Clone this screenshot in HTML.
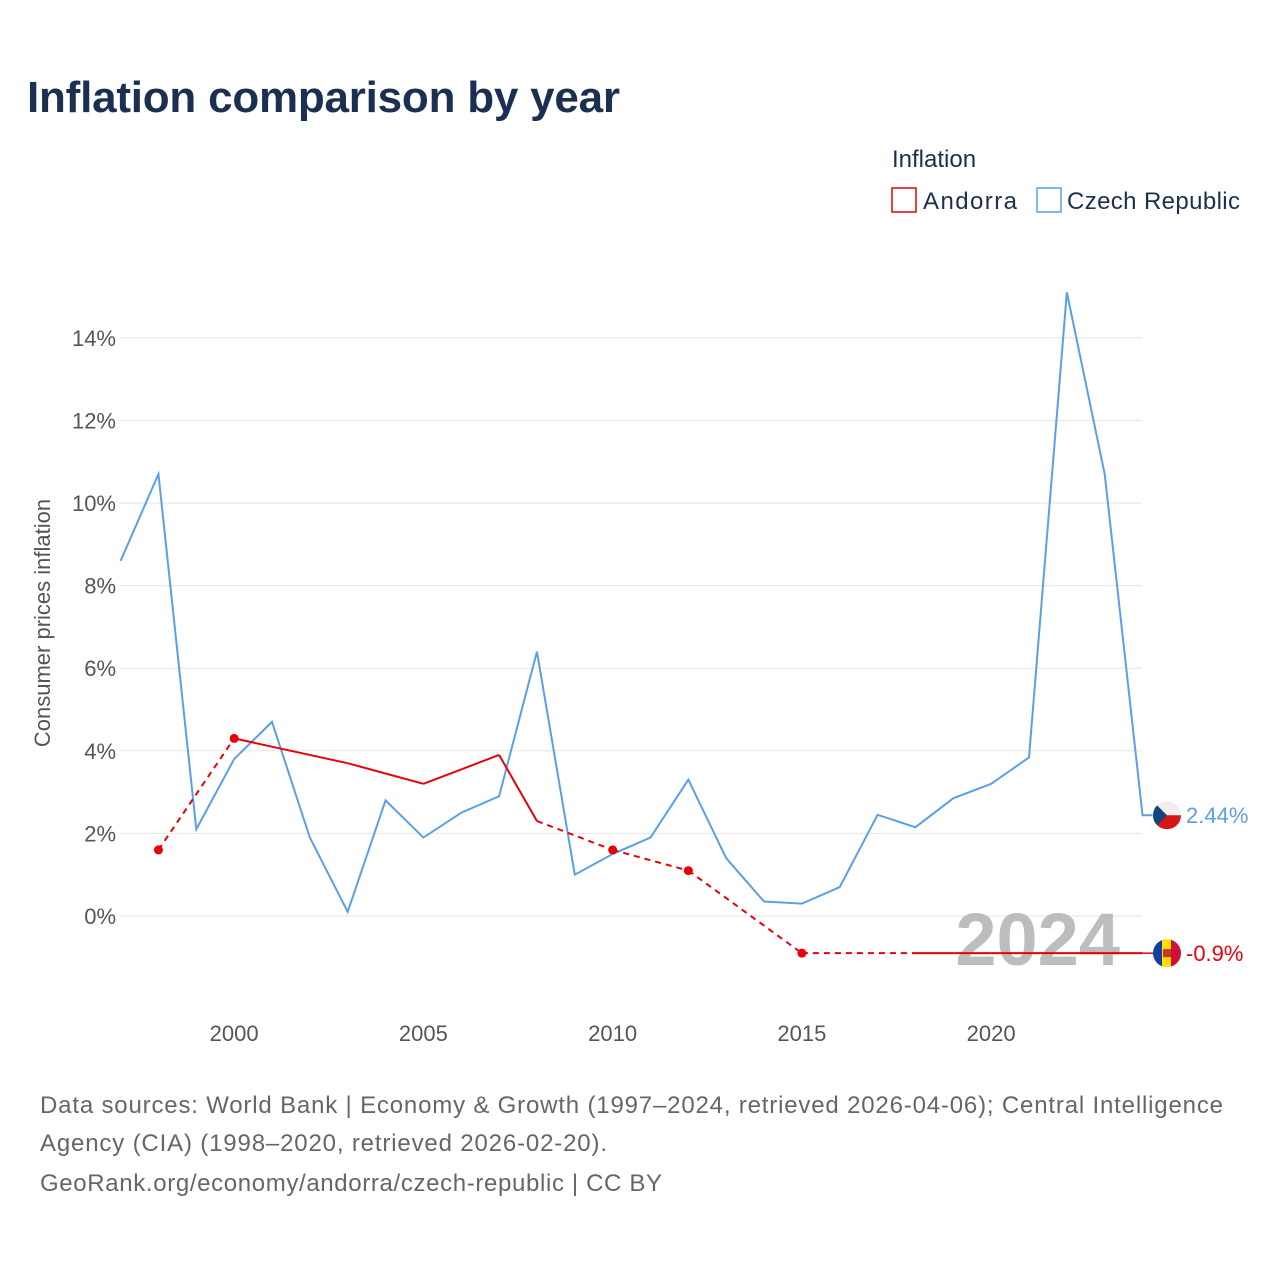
<!DOCTYPE html>
<html><head><meta charset="utf-8"><style>
body{margin:0;background:#fff;font-family:"Liberation Sans",sans-serif;}
</style></head><body>
<svg id="c" width="1280" height="1280" xmlns="http://www.w3.org/2000/svg" style="font-family:'Liberation Sans',sans-serif">
<text x="27" y="112" font-size="44" font-weight="bold" fill="#1b3050" textLength="593">Inflation comparison by year</text>
<text x="892" y="167" font-size="24" fill="#1b3050">Inflation</text>
<g><rect x="892" y="188" width="24" height="24" fill="#fff" stroke="#e8000b" stroke-width="1.5"/><text x="923" y="209" font-size="24" fill="#1b3050" textLength="94">Andorra</text></g>
<g><rect x="1037" y="188" width="24" height="24" fill="#fff" stroke="#5aa0e6" stroke-width="1.5"/><text x="1067" y="209" font-size="24" fill="#1b3050" textLength="173">Czech Republic</text></g>
<text transform="translate(50,623) rotate(-90)" text-anchor="middle" font-size="22" fill="#555">Consumer prices inflation</text>
<g id="grid"></g>
<text x="1120" y="965" text-anchor="end" font-size="74" font-weight="bold" fill="#bdbdbd">2024</text>
<g id="series"></g>
<text x="40" y="1113" font-size="24" fill="#666" textLength="1183">Data sources: World Bank | Economy &amp; Growth (1997–2024, retrieved 2026-04-06); Central Intelligence</text>
<text x="40" y="1151" font-size="24" fill="#666" textLength="567">Agency (CIA) (1998–2020, retrieved 2026-02-20).</text>
<text x="40" y="1191" font-size="24" fill="#666" textLength="622">GeoRank.org/economy/andorra/czech-republic | CC BY</text>
</svg>
<script>
const czYears=[1997,1998,1999,2000,2001,2002,2003,2004,2005,2006,2007,2008,2009,2010,2011,2012,2013,2014,2015,2016,2017,2018,2019,2020,2021,2022,2023,2024];
const czValues=[8.6,10.7,2.1,3.8,4.7,1.9,0.1,2.8,1.9,2.5,2.9,6.4,1.0,1.5,1.9,3.3,1.4,0.35,0.3,0.7,2.45,2.15,2.85,3.2,3.84,15.1,10.7,2.44];
const adYears=[1998,2000,2001,2002,2003,2004,2005,2006,2007,2008,2010,2012,2015,2018,2019,2020,2021,2022,2023,2024];
const adValues=[1.6,4.3,4.1,3.9,3.7,3.45,3.2,3.55,3.9,2.3,1.6,1.1,-0.9,-0.9,-0.9,-0.9,-0.9,-0.9,-0.9,-0.9];
const yTicks=[0,2,4,6,8,10,12,14];
const xTicks=[2000,2005,2010,2015,2020];
const NS="http://www.w3.org/2000/svg";
const X=y=>120.6+(y-1997)*37.85;
const Y=v=>916-v*41.3;
function mk(t,a,p){const e=document.createElementNS(NS,t);for(const k in a)e.setAttribute(k,a[k]);p.appendChild(e);return e;}
const grid=document.getElementById('grid'),ser=document.getElementById('series');
yTicks.forEach(v=>{
 const l=mk('line',{x1:120,x2:1142,y1:Y(v),y2:Y(v),stroke:'#e6e6e6','stroke-width':1},grid);
 
 
 const t=mk('text',{x:116,y:Y(v)+8,'text-anchor':'end','font-size':22,fill:'#555'},grid);
 t.textContent=v+'%';
 
 
});
xTicks.forEach(y=>{
 const t=mk('text',{x:X(y),y:1041,'text-anchor':'middle','font-size':22,fill:'#555'},grid);
 t.textContent=y;
 
 
});
const cz=mk('polyline',{points:czYears.map((y,i)=>X(y)+','+Y(czValues[i])).join(' ')+' '+(X(2024)+10)+','+Y(2.44),fill:'none',stroke:'#5aa0e6','stroke-width':2},ser);


for(let i=1;i<adYears.length;i++){
 const gap=adYears[i]-adYears[i-1]>1;
 const s=mk('line',{x1:X(adYears[i-1]),y1:Y(adValues[i-1]),x2:X(adYears[i]),y2:Y(adValues[i]),stroke:'#e8000b','stroke-width':2},ser);
 if(gap)s.setAttribute('stroke-dasharray','6,5');
 
 
}
adYears.forEach((y,i)=>{
 if(i===0||(adYears[i]-adYears[i-1]>1&&adValues[i]!==adValues[i-1])){
  const d=mk('circle',{cx:X(y),cy:Y(adValues[i]),r:4.5,fill:'#e8000b'},ser);
  
  
 }
});
const last=adValues[adValues.length-1];
const ext=mk('line',{x1:X(2024),x2:1155,y1:Y(last),y2:Y(last),stroke:'#e8000b','stroke-width':1.5},ser);


function flag(cx,cy,name,parts){const g=mk('g',{},ser);
 const cp='cp'+name;const defs=mk('defs',{},g);const c=mk('clipPath',{id:cp},defs);mk('circle',{cx:cx,cy:cy,r:14},c);
 const gg=mk('g',{'clip-path':'url(#'+cp+')'},g);parts(gg);}
const cyC=Y(czValues[czValues.length-1]);
flag(1167,cyC,'czech-flag',g=>{mk('rect',{x:1153,y:cyC-14,width:28,height:14,fill:'#eeeeee'},g);mk('rect',{x:1153,y:cyC,width:28,height:14,fill:'#d7141a'},g);mk('polygon',{points:`1153,${cyC-14} 1167,${cyC} 1153,${cyC+14}`,fill:'#11457e'},g);});
const cyA=Y(last);
flag(1167,cyA,'andorra-flag',g=>{mk('rect',{x:1153,y:cyA-14,width:10,height:28,fill:'#1040a0'},g);mk('rect',{x:1162,y:cyA-14,width:10,height:28,fill:'#fedf00'},g);mk('rect',{x:1171,y:cyA-14,width:10,height:28,fill:'#d0103a'},g);mk('rect',{x:1163,y:cyA-4,width:8,height:8,fill:'#c7362a'},g);});
const tc=mk('text',{x:1186,y:cyC+8,'font-size':22,fill:'#5aa0e6'},ser);tc.textContent=czValues[czValues.length-1]+'%';


const ta=mk('text',{x:1186,y:cyA+8,'font-size':22,fill:'#e8000b'},ser);ta.textContent=last+'%';


</script>
</body></html>
